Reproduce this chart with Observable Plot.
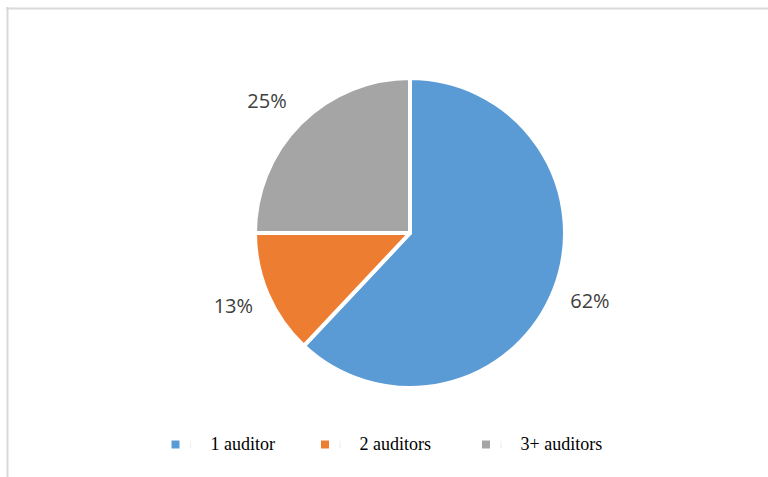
<!DOCTYPE html>
<html>
<head>
<meta charset="utf-8">
<script src="https://cdn.jsdelivr.net/npm/d3@7"></script>
<script src="https://cdn.jsdelivr.net/npm/@observablehq/plot@0.6"></script>
<style>
  html, body { margin: 0; padding: 0; background: #fff; }
  #chart svg { display: block; }
  .legend-text text { font-family: "Liberation Serif", "DejaVu Serif", "Times New Roman", serif !important; }
</style>
</head>
<body>
<div id="chart"></div>
<script>
// ---- data ----
const categories = ["1 auditor", "2 auditors", "3+ auditors"];
const shares = [62, 13, 25];
const colors = ["#5b9bd5", "#ed7d31", "#a5a5a5"];

// ---- layout ----
const W = 768, H = 477;
const cx = 410, cy = 233, R = 155;
const labelR = 193;
const labelNudge = [[0, -3], [0, -4], [-7, 5]];
const legendSquareX = [175, 324.5, 485.5];
const legendTextX = [210, 359, 520];
const legendY = 444;

const total = d3.sum(shares);
const pie = d3.pie().sort(null).value(d => d.value).startAngle(0).endAngle(2 * Math.PI);
const rows = categories.map((c, i) => ({category: c, value: shares[i], color: colors[i]}));
const arcs = pie(rows);

const labels = arcs.map((a, i) => {
  const mid = (a.startAngle + a.endAngle) / 2;
  return {
    x: cx + labelR * Math.sin(mid) + labelNudge[i][0],
    y: cy - labelR * Math.cos(mid) + labelNudge[i][1],
    text: Math.round(a.data.value / total * 100) + "%"
  };
});

const legend = rows.map((r, i) => ({...r, sx: legendSquareX[i], tx: legendTextX[i], y: legendY}));

function pieMark(index, scales) {
  const g = d3.create("svg:g");
  const x0 = scales.x(cx), y0 = scales.y(cy);
  const k = scales.x(cx + R) - x0;
  const arc = d3.arc().innerRadius(0).outerRadius(k);
  g.attr("transform", `translate(${x0},${y0})`)
    .selectAll("path")
    .data(arcs)
    .join("path")
    .attr("d", arc)
    .attr("fill", d => d.data.color)
    .attr("stroke", "#fff")
    .attr("stroke-width", 4)
    .attr("stroke-linejoin", "round");
  return g.node();
}

const chart = Plot.plot({
  width: W,
  height: H,
  margin: 0,
  x: {domain: [0, W], range: [0, W], axis: null},
  y: {domain: [0, H], range: [0, H], axis: null},
  style: {background: "#fff", overflow: "visible"},
  marks: [
    Plot.ruleY([8], {x1: 6, x2: W, stroke: "#d9d9d9", strokeWidth: 2}),
    Plot.ruleX([7], {y1: 7, y2: H, stroke: "#d9d9d9", strokeWidth: 2}),
    pieMark,
    Plot.text(labels, {
      x: "x", y: "y", text: "text",
      fontFamily: "Open Sans", fontSize: 20, fill: "#404040",
      textAnchor: "middle", lineAnchor: "middle"
    }),
    Plot.dot(legend, {
      x: "sx", y: "y", symbol: "square", r: 4.5,
      fill: "color", stroke: null
    }),
    Plot.text(legend, {
      x: d => d.sx + 15, y: d => d.y + 1, text: () => "\u205E",
      fontSize: 9, fill: "#e2e2e2", textAnchor: "middle", lineAnchor: "middle"
    }),
    Plot.text(legend, {
      x: "tx", y: d => d.y + 5.5, text: "category",
      fontFamily: "Liberation Serif", fontSize: 18, fill: "#000",
      textAnchor: "start", lineAnchor: "bottom", className: "legend-text"
    })
  ]
});

document.getElementById("chart").appendChild(chart);
</script>
</body>
</html>
